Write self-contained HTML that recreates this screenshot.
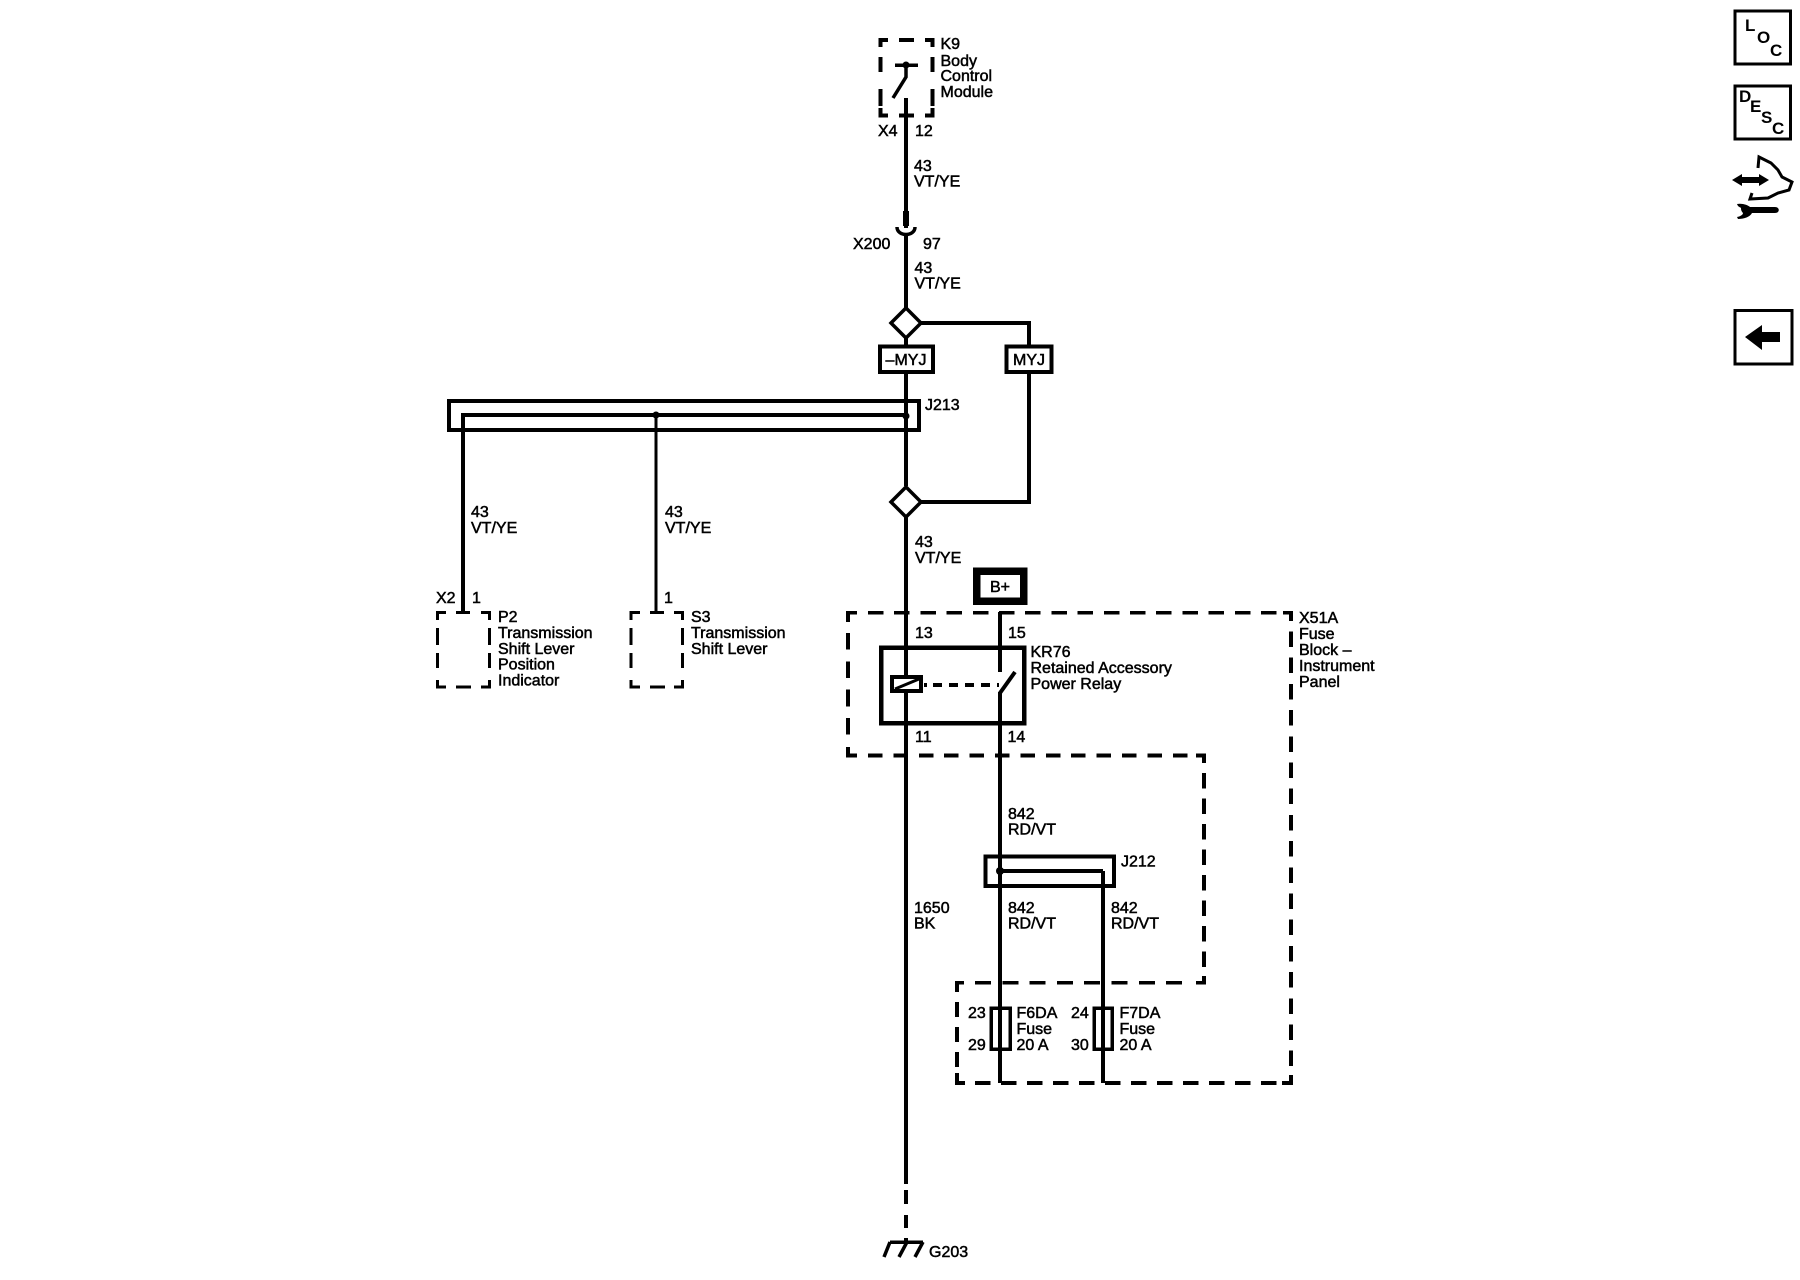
<!DOCTYPE html>
<html><head><meta charset="utf-8"><title>Wiring diagram</title>
<style>
html,body{margin:0;padding:0;background:#fff;width:1800px;height:1280px;overflow:hidden}
svg{display:block}
text{font-family:"Liberation Sans",sans-serif;font-size:16px;fill:#000;stroke:#000;stroke-width:.5}
.b{font-weight:bold;stroke:none;font-size:17px}
</style></head><body>
<svg width="1800" height="1280" viewBox="0 0 1800 1280" xmlns="http://www.w3.org/2000/svg">
<g fill="none" stroke="#000" stroke-width="4" shape-rendering="crispEdges">
<!-- K9 box -->
<path stroke-width="3.800" d="M880.500 47V40H888M899 40H914M925 40H932.500V47M880.500 57V72M880.500 89V106M932.500 57V72M932.500 89V106M880.500 108V115.500H888M899 115.500H914M925 115.500H932.500V108"/>
<!-- main wire -->
<path d="M906 98V228"/>
<path stroke-width="6" d="M906 211V226"/>
<path d="M906 236V308"/>
<path d="M906 372V486M906 516V1184"/>
<path d="M906 1190V1204M906 1215V1228M906 1238V1242" stroke-width="4"/>
<!-- MYJ branch -->
<path d="M920 323H1029V346M1029 372V502H920"/>
<path d="M906 338V346"/>
<!-- J213 -->
<path stroke-width="4" d="M449 401H919V430H449Z"/>
<path d="M463 415H906M463 413V612"/>
<path stroke-width="3" d="M656 415V612"/>
<!-- P2 / S3 -->
<path stroke-width="3.400" d="M437.500 620V612.500H446M456 612.500H470M481 612.500H489.500V620M437.500 628V645M437.500 653V668M489.500 628V645M489.500 653V668M437.500 680V687H446M456 687H471M481 687H489.500V680"/>
<path stroke-width="3.400" d="M631 620V612.500H640M650 612.500H664M674 612.500H682.500V620M631 628V645M631 653V668M682.500 628V645M682.500 653V668M631 680V687H640M650 687H665M674 687H682.500V680"/>
<!-- X51A -->
<path stroke-width="3.600" d="M848 622V612.700H857M1283 612.700H1291V621M848 747V755.500H857M1196 755.500H1204V763M1204 976V982.700H1196M964 982.700H957V992M957 1073V1083H965M1282 1083H1291V1075"/>
<path stroke-width="3.600" stroke-dasharray="15.500 10.700" d="M868 612.700H1280"/>
<path stroke-width="3.600" stroke-dasharray="16.700 11.600" d="M848 633V740"/>
<path stroke-width="3.600" stroke-dasharray="14.500 10.900" d="M868 755.500H1194"/>
<path stroke-width="3.600" stroke-dasharray="15.500 10" d="M1204 773V972"/>
<path stroke-width="3.600" stroke-dasharray="16 11.300" d="M975 982.700H1190"/>
<path stroke-width="3.600" stroke-dasharray="15 10" d="M957 1002V1068"/>
<path stroke-width="3.600" stroke-dasharray="15.300 10.700" d="M975 1083H1280"/>
<path stroke-width="4" stroke-dasharray="15.500 10.700" d="M1291 631.500V1072"/>
<!-- right wires -->
<path d="M1000 612V672M1000 692V1083M1103 871V1083"/>
<path d="M1000 871H1103"/>
<!-- relay -->
<path stroke-width="4.500" d="M881 647.500H1024V723H881Z"/>
<path fill="#fff" stroke-width="4" d="M892 677H921V691H892Z"/>
<path stroke-width="3" d="M895 689L919 679" shape-rendering="auto"/>
<path d="M924 685H927" stroke-width="4"/>
<path d="M933 685H999" stroke-dasharray="9 7" stroke-width="4"/>
<path d="M1000 693L1015 672" stroke-width="4" shape-rendering="auto"/>
<!-- J212 -->
<path stroke-width="4" d="M985.500 856.500H1114V886H985.500Z"/>
<!-- fuses -->
<path stroke-width="3.500" d="M991 1008H1010V1049H991ZM1094 1008H1112V1049H1094Z"/>
<!-- K9 switch -->
<path stroke-width="3.500" d="M895 65H918"/>
<path stroke-width="3.500" d="M906 65V77L893 98" shape-rendering="auto"/>
<!-- X200 cup -->
<path stroke-width="3.500" d="M897 227C897 237 915 237 915 227" shape-rendering="auto"/>
<!-- ground -->
<path stroke-width="3.500" d="M890 1242H923"/>
<path stroke-width="3.500" shape-rendering="auto" d="M890 1242L884 1257M907 1242L899 1257M923 1242L915 1257"/>
</g>
<!-- diamonds -->
<path d="M906 308L921 323L906 338L891 323Z" fill="#fff" stroke="#000" stroke-width="3.500"/>
<path d="M906 487L921 502L906 517L891 502Z" fill="#fff" stroke="#000" stroke-width="3.500"/>
<!-- option boxes -->
<rect x="880" y="346.500" width="53" height="25.500" fill="#fff" stroke="#000" stroke-width="4" shape-rendering="crispEdges"/>
<rect x="1006.500" y="346.500" width="45" height="25.500" fill="#fff" stroke="#000" stroke-width="4" shape-rendering="crispEdges"/>
<!-- B+ -->
<rect x="976.500" y="571" width="47" height="30" fill="#fff" stroke="#000" stroke-width="7.500" shape-rendering="crispEdges"/>
<!-- dots -->
<g fill="#000"><circle cx="656" cy="415" r="3.500"/><circle cx="906" cy="416" r="3.500"/><circle cx="1000" cy="871" r="4"/><circle cx="906" cy="65" r="3.500"/></g>

<!-- labels -->
<text x="940.500" y="49">K9</text><text x="940.500" y="66">Body</text><text x="940.500" y="81">Control</text><text x="940.500" y="97">Module</text>
<text x="878" y="136">X4</text><text x="915" y="136">12</text>
<text x="914" y="171">43</text><text x="914" y="186.500">VT/YE</text>
<text x="853" y="249">X200</text><text x="923" y="249">97</text>
<text x="914.500" y="273">43</text><text x="914.500" y="288.500">VT/YE</text>
<text x="906" y="365" text-anchor="middle">–MYJ</text><text x="1029" y="365" text-anchor="middle">MYJ</text>
<text x="925" y="410">J213</text>
<text x="471" y="517">43</text><text x="471" y="533">VT/YE</text>
<text x="665" y="517">43</text><text x="665" y="533">VT/YE</text>
<text x="915" y="547">43</text><text x="915" y="563">VT/YE</text>
<text x="436" y="603">X2</text><text x="472" y="603">1</text><text x="664" y="603">1</text>
<text x="498" y="622">P2</text><text x="498" y="638">Transmission</text><text x="498" y="654">Shift Lever</text><text x="498" y="669.500">Position</text><text x="498" y="685.500">Indicator</text>
<text x="691" y="622">S3</text><text x="691" y="638">Transmission</text><text x="691" y="654">Shift Lever</text>
<text x="1000" y="592" text-anchor="middle">B+</text>
<text x="915" y="638">13</text><text x="1008" y="638">15</text>
<text x="1030.500" y="657">KR76</text><text x="1030.500" y="673">Retained Accessory</text><text x="1030.500" y="689">Power Relay</text>
<text x="915" y="742">11</text><text x="1007.500" y="742">14</text>
<text x="1299" y="623">X51A</text><text x="1299" y="639">Fuse</text><text x="1299" y="655">Block –</text><text x="1299" y="671">Instrument</text><text x="1299" y="687">Panel</text>
<text x="1008" y="819">842</text><text x="1008" y="834.500">RD/VT</text>
<text x="1121" y="866.500">J212</text>
<text x="914" y="913">1650</text><text x="914" y="928.500">BK</text>
<text x="1008" y="913">842</text><text x="1008" y="928.500">RD/VT</text>
<text x="1111" y="913">842</text><text x="1111" y="928.500">RD/VT</text>
<text x="968" y="1018">23</text><text x="968" y="1050">29</text>
<text x="1016.500" y="1018">F6DA</text><text x="1016.500" y="1034">Fuse</text><text x="1016.500" y="1050">20 A</text>
<text x="1071" y="1018">24</text><text x="1071" y="1050">30</text>
<text x="1119.500" y="1018">F7DA</text><text x="1119.500" y="1034">Fuse</text><text x="1119.500" y="1050">20 A</text>
<text x="929" y="1257">G203</text>

<!-- side icons -->
<g fill="none" stroke="#000" stroke-width="3.200" shape-rendering="crispEdges">
<rect x="1735" y="11" width="55.500" height="53"/>
<rect x="1735" y="86" width="55.500" height="53"/>
<rect x="1735" y="310.500" width="57" height="53.500"/>
</g>
<text class="b" x="1745" y="31">L</text><text class="b" x="1757" y="43">O</text><text class="b" x="1770" y="56">C</text>
<text class="b" x="1739" y="102">D</text><text class="b" x="1750" y="112">E</text><text class="b" x="1761" y="123">S</text><text class="b" x="1772" y="134">C</text>
<path fill="#000" d="M1745 337L1762 325V332H1780V342H1762V350Z"/>
<!-- hand/arrow/wrench -->
<path fill="none" stroke="#000" stroke-width="3" d="M1758 168L1759 157L1771 163L1778 170L1782 177L1792 182L1789 190L1778 193L1768 198L1750 199L1752 193"/>
<path fill="#000" d="M1732 180L1742 174V177H1759V174L1769 180L1759 186V183H1742V186Z"/>
<path fill="#000" d="M1737 204C1742 203 1748 205 1750 207H1775C1780 207 1780 213 1775 213H1752C1750 217 1744 219 1738 219L1737 217C1742 216 1743 214 1743 213C1741 211 1741 209 1741 208C1740 207 1738 207 1737 204Z"/>
</svg>
</body></html>
